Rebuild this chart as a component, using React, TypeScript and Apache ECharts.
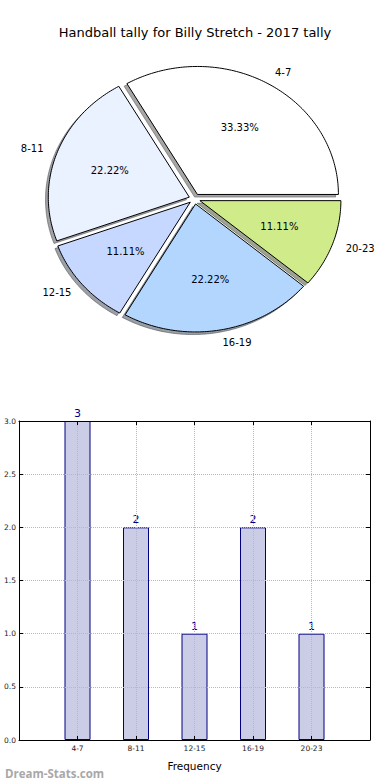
import React, { useEffect, useRef } from 'react';
import * as echarts from 'echarts';

// ---- data ----
const categories: string[] = ['4-7', '8-11', '12-15', '16-19', '20-23'];
const counts: number[] = [3, 2, 1, 2, 1];
const sliceColors: string[] = ['#ffffff', '#eaf1ff', '#c6d8ff', '#b3d6ff', '#d0eb8a'];
const titleText = 'Handball tally for Billy Stretch - 2017 tally';
const xAxisName = 'Frequency';
const watermark = 'Dream-Stats.com';

const FONT = 'DejaVu Sans';

function shadeOf(hex: string): string {
  const n = parseInt(hex.slice(1), 16);
  const r = Math.round(((n >> 16) & 255) * 0.3);
  const g = Math.round(((n >> 8) & 255) * 0.3);
  const b = Math.round((n & 255) * 0.3);
  return `rgb(${r},${g},${b})`;
}

export default function App() {
  const ref = useRef<HTMLDivElement>(null);

  useEffect(() => {
    if (!ref.current) return;
    const chart = echarts.init(ref.current, undefined, { renderer: 'svg' });

    const total = counts.reduce((a, b) => a + b, 0);
    const starts: number[] = [];
    let acc = 0;
    counts.forEach((c) => {
      starts.push(acc);
      acc += c;
    });

    const PIE = { cx: 194.6, cy: 198.9, rx: 141, ry: 128, explode: 0.04, sdx: -2.8, sdy: 2.6 };

    const renderPie = (params: any, api: any) => {
      const i = params.dataIndex;
      const v = api.value(0) as number;
      const a0 = (starts[i] / total) * Math.PI * 2;
      const a1 = a0 + (v / total) * Math.PI * 2;
      const mid = (a0 + a1) / 2;
      const cm = Math.cos(mid);
      const sm = Math.sin(mid);
      const ox = PIE.cx + PIE.explode * PIE.rx * cm;
      const oy = PIE.cy - PIE.explode * PIE.ry * sm;
      const pts: number[][] = [[ox, oy]];
      const n = Math.max(12, Math.ceil((a1 - a0) / (Math.PI / 180)));
      for (let k = 0; k <= n; k++) {
        const a = a0 + ((a1 - a0) * k) / n;
        pts.push([ox + PIE.rx * Math.cos(a), oy - PIE.ry * Math.sin(a)]);
      }
      const spts = pts.map((p) => [p[0] + PIE.sdx, p[1] + PIE.sdy]);
      const shade = shadeOf(sliceColors[i]);
      const pct = ((v / total) * 100).toFixed(2) + '%';
      return {
        type: 'group',
        children: [
          {
            type: 'polygon',
            shape: { points: spts },
            style: { fill: shade, stroke: shade, lineWidth: 1, opacity: 0.5 },
            z2: 1,
          },
          {
            type: 'polygon',
            shape: { points: pts },
            style: { fill: sliceColors[i], stroke: '#000', lineWidth: 1 },
            z2: 10,
          },
          {
            type: 'text',
            x: ox + 0.6 * PIE.rx * cm,
            y: oy - 0.6 * PIE.ry * sm,
            style: {
              text: pct,
              fontSize: 10,
              fontFamily: FONT,
              fill: '#000',
              align: 'center',
              verticalAlign: 'middle',
            },
            z2: 20,
          },
          {
            type: 'text',
            x: ox + 1.1 * PIE.rx * cm,
            y: oy - 1.1 * PIE.ry * sm,
            style: {
              text: categories[i],
              fontSize: 10,
              fontFamily: FONT,
              fill: '#000',
              align: cm >= 0 ? 'left' : 'right',
              verticalAlign: 'middle',
            },
            z2: 20,
          },
        ],
      };
    };

    const axisLabelStyle = { fontSize: 7.5, color: '#222', fontFamily: FONT };
    const blackLine = { show: true, onZero: false, lineStyle: { color: '#000', width: 1 } };
    const dotted = { show: true, lineStyle: { type: 'dotted', color: '#b8b8b8', width: 1 } };
    const inTick = { show: true, inside: true, length: 4, lineStyle: { color: '#000' } };

    chart.setOption({
      animation: false,
      textStyle: { fontFamily: FONT },
      title: [
        {
          text: titleText,
          left: 'center',
          top: 21,
          textStyle: { fontSize: 13, fontWeight: 'normal', color: '#000', fontFamily: FONT },
        },
        {
          text: watermark,
          left: 0,
          top: 762,
          textStyle: { fontSize: 11.5, fontWeight: 'bold', color: '#a8a8a8', fontFamily: 'Open Sans' },
        },
      ],
      grid: { left: 19, right: 20, top: 421, bottom: 40, containLabel: false },
      xAxis: [
        {
          type: 'value',
          min: -1,
          max: 5,
          interval: 1,
          position: 'bottom',
          z: 5,
          axisLine: blackLine,
          axisTick: inTick,
          axisLabel: {
            ...axisLabelStyle,
            margin: 4,
            formatter: (v: number) => (categories[v] !== undefined ? categories[v] : ''),
          },
          splitLine: dotted,
          name: xAxisName,
          nameLocation: 'middle',
          nameGap: 20,
          nameTextStyle: { fontSize: 10.5, color: '#000', fontFamily: FONT },
        },
        {
          type: 'value',
          min: -1,
          max: 5,
          interval: 1,
          position: 'top',
          z: 5,
          axisLine: blackLine,
          axisTick: inTick,
          axisLabel: { show: false },
          splitLine: { show: false },
        },
      ],
      yAxis: [
        {
          type: 'value',
          min: 0,
          max: 3,
          interval: 0.5,
          position: 'left',
          z: 5,
          axisLine: blackLine,
          axisTick: inTick,
          axisLabel: { ...axisLabelStyle, margin: 3, formatter: (v: number) => v.toFixed(1) },
          splitLine: dotted,
        },
        {
          type: 'value',
          min: 0,
          max: 3,
          interval: 0.5,
          position: 'right',
          z: 5,
          axisLine: blackLine,
          axisTick: inTick,
          axisLabel: { show: false },
          splitLine: { show: false },
        },
      ],
      series: [
        {
          type: 'custom',
          name: 'tally',
          coordinateSystem: 'none',
          renderItem: renderPie,
          data: counts.map((c) => [c]),
          z: 2,
        },
        {
          type: 'bar',
          name: 'Frequency',
          xAxisIndex: 0,
          yAxisIndex: 0,
          barWidth: 26,
          data: counts.map((c, i) => [i, c]),
          itemStyle: { color: '#cbcce6', borderColor: '#000080', borderWidth: 1 },
          label: {
            show: true,
            position: 'top',
            distance: 2,
            color: '#000080',
            fontSize: 11,
            fontFamily: FONT,
            formatter: (p: any) => String(p.value[1]),
          },
          z: 2,
        },
      ],
    });

    return () => chart.dispose();
  }, []);

  return (
    <div
      ref={ref}
      style={{ position: 'fixed', left: 0, top: 0, width: 390, height: 780, background: '#fff' }}
    />
  );
}
